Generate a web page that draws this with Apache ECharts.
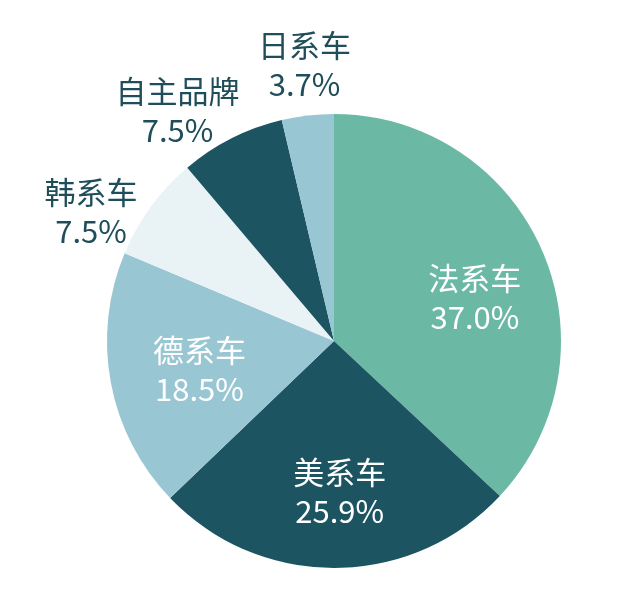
<!DOCTYPE html>
<html>
<head>
<meta charset="utf-8">
<script src="https://cdn.jsdelivr.net/npm/echarts@6/dist/echarts.min.js"></script>
<style>
html,body{margin:0;padding:0;background:#fff;}
#chart{width:640px;height:596px;}
</style>
</head>
<body>
<div id="chart"></div>
<script>
// Data
var categories = ['法系车', '美系车', '德系车', '韩系车', '自主品牌', '日系车'];
var values = [37.0, 25.9, 18.5, 7.5, 7.5, 3.7];

// Styles
var colors = ['#6bb9a5', '#1c5462', '#99c6d3', '#e9f3f6', '#1c5462', '#99c6d3'];
var labelColors = ['#ffffff', '#ffffff', '#ffffff', '#1f4e5a', '#1f4e5a', '#1f4e5a'];
var labelOffsets = [[34, 3], [5, 34], [-20, 7], [-149, -60], [-104, -126], [-16, -161]];

var chart = echarts.init(document.getElementById('chart'));
var data = categories.map(function (c, i) {
  return {
    name: c,
    value: values[i],
    itemStyle: { color: colors[i] },
    label: { color: labelColors[i] }
  };
});

chart.setOption({
  backgroundColor: '#ffffff',
  animation: false,
  series: [{
    type: 'pie',
    center: [334, 341],
    radius: [0, 227],
    startAngle: 90,
    clockwise: true,
    avoidLabelOverlap: false,
    data: data,
    itemStyle: { borderWidth: 0 },
    label: {
      show: true,
      position: 'inside',
      fontFamily: '"Noto Sans CJK SC", "Noto Sans", sans-serif',
      fontSize: 31,
      lineHeight: 39,
      align: 'center',
      formatter: function (p) {
        return p.name + '\n' + p.value.toFixed(1) + '%';
      }
    },
    labelLine: { show: false },
    labelLayout: function (params) {
      var o = labelOffsets[params.dataIndex];
      return { dx: o[0], dy: o[1] };
    }
  }]
});
</script>
</body>
</html>
